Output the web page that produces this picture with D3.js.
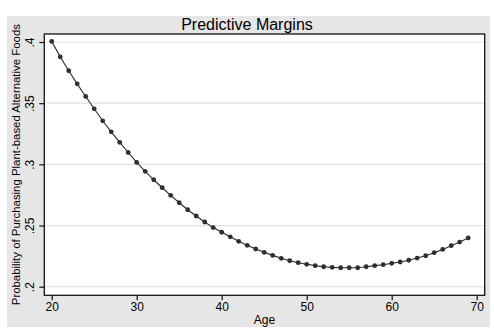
<!DOCTYPE html>
<html>
<head>
<meta charset="utf-8">
<script src="https://cdn.jsdelivr.net/npm/d3@7"></script>
<style>
  html, body { margin: 0; padding: 0; background: #ffffff; }
  svg { display: block; }
  text { font-family: "Liberation Sans", Arial, sans-serif; fill: #000; }
</style>
</head>
<body>
<svg id="chart" width="494" height="334"></svg>
<script>
const ages = [20,21,22,23,24,25,26,27,28,29,30,31,32,33,34,35,36,37,38,39,40,41,42,43,44,45,46,47,48,49,50,51,52,53,54,55,56,57,58,59,60,61,62,63,64,65,66,67,68,69];
const probs = [0.4005,0.3879,0.3765,0.3658,0.3555,0.3454,0.3356,0.3266,0.3180,0.3097,
               0.3016,0.2943,0.2874,0.2809,0.2747,0.2686,0.2629,0.2578,0.2529,0.2483,
               0.2445,0.2408,0.2371,0.2338,0.2308,0.2281,0.2256,0.2232,0.2212,0.2196,
               0.2183,0.2172,0.2163,0.2158,0.2155,0.2155,0.2155,0.2163,0.2172,0.2180,
               0.2191,0.2202,0.2216,0.2234,0.2253,0.2278,0.2305,0.2335,0.2365,0.2399];
const xTicks = [20,30,40,50,60,70];
const yTicks = [0.2,0.25,0.3,0.35,0.4];
const yTickLabels = [".2",".25",".3",".35",".4"];
const titleText = "Predictive Margins";
const xTitle = "Age";
const yTitle = "Probability of Purchasing Plant-based Alternative Foods";

const svg = d3.select("#chart");

// outer graph region (gray)
svg.append("rect").attr("x",7).attr("y",16).attr("width",483).attr("height",311).attr("fill","#e6e6e6");

const plot = {left:44.3, top:34, right:484.7, bottom:295.3};
svg.append("rect").attr("x",plot.left).attr("y",plot.top)
  .attr("width",plot.right-plot.left).attr("height",plot.bottom-plot.top).attr("fill","#ffffff");

const x = d3.scaleLinear().domain([20,70]).range([51.7,476.7]);
const y = d3.scaleLinear().domain([0.2,0.4]).range([286.7,42]);

// gridlines
svg.append("g").selectAll("line").data(yTicks).join("line")
  .attr("x1",plot.left).attr("x2",plot.right)
  .attr("y1",d=>y(d)).attr("y2",d=>y(d))
  .attr("stroke","#e2e2e2").attr("stroke-width",1.2);

// frame
svg.append("rect").attr("x",plot.left).attr("y",plot.top)
  .attr("width",plot.right-plot.left).attr("height",plot.bottom-plot.top)
  .attr("fill","none").attr("stroke","#111").attr("stroke-width",1.3);

// y axis
const yAxis = svg.append("g").attr("transform",`translate(${plot.left},0)`)
  .call(d3.axisLeft(y).tickValues(yTicks).tickSize(5).tickFormat((d,i)=>yTickLabels[i]));
yAxis.select(".domain").remove();
yAxis.selectAll(".tick line").attr("stroke","#111").attr("stroke-width",1.2);
yAxis.selectAll(".tick text")
  .attr("x",0).attr("dy",null).attr("y",0)
  .attr("text-anchor","middle")
  .attr("transform","translate(-10.5,0) rotate(-90)")
  .attr("font-size","12px").attr("fill","#000")
  .style("font-family","'Liberation Sans', Arial, sans-serif");

// x axis
const xAxis = svg.append("g").attr("transform",`translate(0,${plot.bottom})`)
  .call(d3.axisBottom(x).tickValues(xTicks).tickSize(5).tickFormat(d3.format("d")));
xAxis.select(".domain").remove();
xAxis.selectAll(".tick line").attr("stroke","#111").attr("stroke-width",1.2);
xAxis.selectAll(".tick text")
  .attr("y",16).attr("dy",null)
  .attr("font-size","12px").attr("fill","#000")
  .style("font-family","'Liberation Sans', Arial, sans-serif");

// line
svg.append("path")
  .datum(ages.map((a,i)=>[a,probs[i]]))
  .attr("d", d3.line().x(d=>x(d[0])).y(d=>y(d[1])))
  .attr("fill","none").attr("stroke","#2a2a2a").attr("stroke-width",1.1);

// markers
svg.append("g").selectAll("circle").data(ages).join("circle")
  .attr("cx",(d)=>x(d)).attr("cy",(d,i)=>y(probs[i])).attr("r",2.4)
  .attr("fill","#2e2e2e");

// titles
svg.append("text").attr("x",247).attr("y",29.5).attr("text-anchor","middle")
  .attr("font-size","16px").text(titleText);
svg.append("text").attr("x",(plot.left+plot.right)/2).attr("y",323.5).attr("text-anchor","middle")
  .attr("font-size","12px").text(xTitle);
svg.append("text").attr("transform",`translate(20,${(plot.top+plot.bottom)/2}) rotate(-90)`)
  .attr("text-anchor","middle").attr("font-size","11.4px").text(yTitle);
</script>
</body>
</html>
